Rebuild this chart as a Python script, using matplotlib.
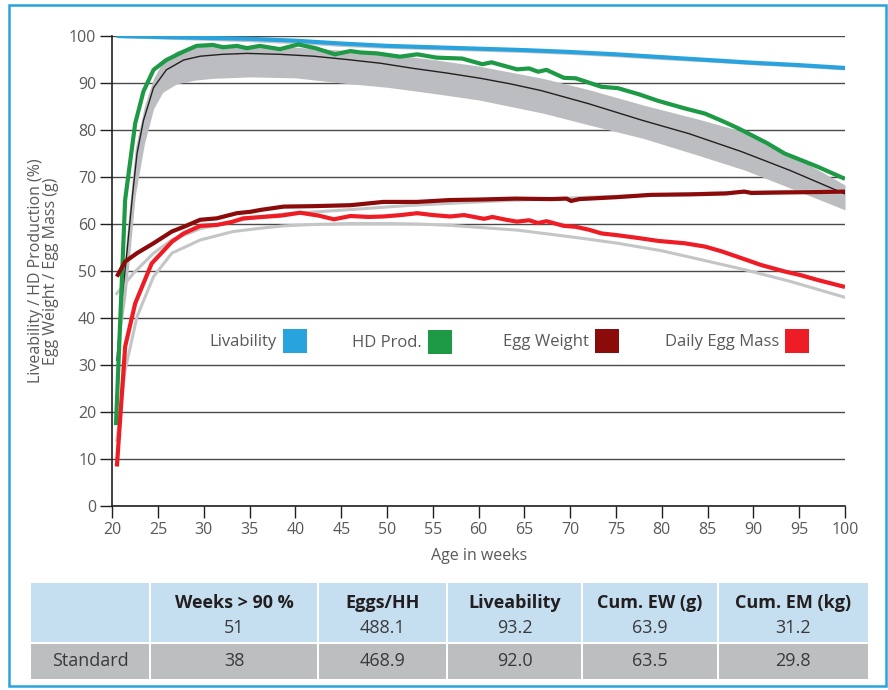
import matplotlib
matplotlib.use("Agg")
import matplotlib.pyplot as plt
from matplotlib.patches import Rectangle
import numpy as np

# ---------------- data ----------------
liv_weeks = [20.5, 25, 30, 35, 40, 45, 50, 55, 60, 65, 70, 75, 80, 85, 90, 95, 100]
liv_vals = [100, 99.8, 99.6, 99.4, 99.0, 98.4, 97.9, 97.6, 97.3, 97.0, 96.6, 96.1, 95.5, 94.9, 94.3, 93.8, 93.2]
liv_std_vals = [99.9, 99.6, 99.3, 99.0, 98.6, 98.0, 97.6, 97.3, 97.0, 96.7, 96.3, 95.8, 95.2, 94.7, 94.1, 93.6, 93.0]

hd_weeks = [20.4, 21.4, 22.5, 23.4, 24.5, 25.9, 27.8, 29.2, 31, 32.1, 33.6, 34.7, 36.1, 38.3, 40.3,
            42.2, 44.3, 46, 47.1, 48.9, 51.4, 53.3, 55.4, 58.2, 60.4, 61.4, 64.2, 65.5, 66.5, 67.4,
            69.3, 70.6, 73.4, 75.2, 77.5, 79.6, 82.5, 84.7, 86.5, 88.3, 89.8, 91.5, 93.4, 95.2, 97.0, 100]
hd_vals = [17.2, 65.1, 81.4, 88.2, 92.8, 94.9, 96.7, 97.9, 98.1, 97.6, 97.9, 97.4, 97.9, 97.2, 98.2,
           97.4, 96.1, 96.8, 96.5, 96.3, 95.6, 96.1, 95.4, 95.2, 94.0, 94.4, 92.9, 93.1, 92.4, 92.8,
           91.1, 91.0, 89.2, 88.9, 87.6, 86.2, 84.6, 83.5, 82.0, 80.4, 78.9, 77.2, 75.0, 73.6, 72.2, 69.6]

hd_std_weeks = [20.5, 21, 21.6, 22.2, 22.7, 23.4, 24.5, 25.9, 27.8, 29.6, 32, 34.7, 38.3, 42, 45.6,
                49.3, 52.9, 56.6, 60.2, 63.5, 66.8, 72, 77.8, 83, 88.7, 94, 100]
hd_std_vals = [31, 43, 54, 66, 75, 82, 89, 92.8, 94.9, 95.7, 96.1, 96.3, 96.1, 95.7, 95.0,
               94.2, 93.1, 92.1, 91.0, 89.8, 88.4, 85.6, 82.1, 79.2, 75.4, 71.4, 66.4]

band_weeks = [20.5, 21.5, 22.5, 23.5, 24.5, 25.5, 27, 29, 31, 35, 40, 45, 50, 55, 60, 67, 72, 78, 84, 89, 95, 100]
band_upper = [31, 56, 76, 85, 91, 94.5, 96.8, 97.8, 98.2, 98.0, 97.6, 97.0, 96.2, 95.0, 93.6, 91.0,
              88.6, 85.3, 82.3, 79.6, 73.8, 68.3]
band_lower = [31, 45, 66, 77, 84.5, 88, 89.8, 90.6, 91.0, 91.3, 91.1, 90.0, 89.1, 87.8, 86.4, 83.6,
              81.1, 78.2, 74.6, 71.5, 66.9, 63.0]

ew_weeks = [20.5, 21.4, 22.7, 24.5, 26.5, 27.8, 29.6, 31.4, 33.6, 35.1, 36.2, 38.7, 42, 46, 49.6,
            53.3, 56.9, 60, 64, 67.9, 69.6, 70.1, 71, 75, 78.8, 83, 87, 89, 89.8, 93, 97, 100]
ew_vals = [48.8, 52.0, 53.8, 55.9, 58.4, 59.4, 60.9, 61.2, 62.3, 62.6, 63.0, 63.7, 63.8, 64.0, 64.7,
           64.7, 65.1, 65.2, 65.4, 65.3, 65.4, 64.9, 65.3, 65.7, 66.2, 66.3, 66.5, 66.9, 66.6, 66.7, 66.8, 66.9]

ew_std_weeks = [20.5, 22.3, 24.5, 26.5, 29.6, 33, 36, 39, 42.4, 47, 52, 57, 62, 67, 72, 78, 84, 90, 95, 100]
ew_std_vals = [45.2, 49.5, 53.8, 56.6, 59.0, 60.5, 61.5, 62.2, 62.6, 63.2, 63.9, 64.4, 64.9, 65.3,
               65.7, 66.1, 66.5, 66.8, 67.0, 67.2]

em_weeks = [20.5, 21.4, 22.5, 24.3, 26.5, 27.8, 29.6, 31.4, 33, 34.3, 36.4, 38.5, 40.5, 42.5, 44.2,
            46, 48, 49.6, 51.5, 53.3, 55, 56.9, 58.4, 60.6, 61.5, 63, 64.2, 65.5, 66.5, 67.4, 69.3,
            70.6, 72, 73.4, 75.2, 77.5, 79.6, 82.5, 84.7, 86.5, 88.3, 90.8, 93.4, 95.2, 97.0, 100]
em_vals = [8.4, 33.9, 43.1, 51.6, 56.2, 58.0, 59.6, 59.8, 60.4, 61.2, 61.5, 61.8, 62.4, 61.8, 61.0,
           61.7, 61.5, 61.6, 61.9, 62.3, 61.9, 61.6, 61.9, 61.1, 61.5, 60.9, 60.5, 60.8, 60.2, 60.6, 59.6,
           59.4, 58.8, 58.0, 57.6, 57.0, 56.4, 55.9, 55.2, 54.2, 53.0, 51.3, 49.9, 49.1, 48.1, 46.6]

em_std_weeks = [20.5, 21.4, 22.7, 24.5, 26.5, 29.6, 33.2, 36.2, 38.7, 42, 46, 50, 53.3, 57, 60.6,
                64.2, 67.9, 71.5, 75.2, 80, 84.3, 89, 94, 100]
em_std_vals = [14.0, 28.9, 40.3, 48.8, 53.8, 56.6, 58.4, 59.1, 59.6, 59.9, 60.1, 60.1, 60.0, 59.7,
               59.2, 58.7, 57.8, 56.9, 55.9, 54.3, 52.4, 50.3, 47.8, 44.4]

legend_labels = ["Livability", "HD Prod.", "Egg Weight", "Daily Egg Mass"]
x_ticks = list(range(20, 101, 5))
y_ticks = list(range(0, 101, 10))

table_headers = ["", "Weeks > 90 %", "Eggs/HH", "Liveability", "Cum. EW (g)", "Cum. EM (kg)"]
table_row1 = ["", "51", "488.1", "93.2", "63.9", "31.2"]
table_row2 = ["Standard", "38", "468.9", "92.0", "63.5", "29.8"]

# ---------------- style ----------------
C_BLUE = "#29a3dd"
C_GREEN = "#1e9a46"
C_DRED = "#8b0a0a"
C_RED = "#ee1d25"
C_BAND = "#bcbdc0"
C_GLINE = "#c4c5c7"
C_TXT = "#58595b"

FONT = ["Open Sans", "DejaVu Sans"]
plt.rcParams["font.family"] = FONT

W, H = 888, 690
fig = plt.figure(figsize=(W / 100, H / 100), dpi=100)


def fx(px):
    return px / W


def fy(py):
    return 1 - py / H


# blue frame
fig.patches.append(Rectangle((fx(9), fy(686)), fx(886) - fx(9), fy(5) - fy(686),
                             transform=fig.transFigure, fill=False, edgecolor=C_BLUE, linewidth=1.8))

ax = fig.add_axes([fx(112.3), fy(506), fx(845) - fx(112.3), fy(36) - fy(506)])
ax.set_xlim(20, 100)
ax.set_ylim(0, 100)

for s in ["top", "right"]:
    ax.spines[s].set_visible(False)
for s in ["left", "bottom"]:
    ax.spines[s].set_color("#231f20")
    ax.spines[s].set_linewidth(1.2)

ax.set_xticks(x_ticks)
ax.set_yticks(y_ticks)
ax.tick_params(axis="both", direction="out", length=8.5, width=1.0, color="#231f20",
               labelsize=11.5, labelcolor=C_TXT, pad=3)
ax.yaxis.grid(True, color="#4a4a4a", linewidth=1.0)
ax.set_axisbelow(True)

# band
ax.fill_between(band_weeks, band_lower, band_upper, color=C_BAND, linewidth=0, zorder=2)
# standards
ax.plot(liv_weeks, liv_std_vals, color=C_GLINE, lw=2.2, zorder=3, solid_capstyle="butt")
ax.plot(ew_std_weeks, ew_std_vals, color=C_GLINE, lw=2.2, zorder=3)
ax.plot(em_std_weeks, em_std_vals, color=C_GLINE, lw=2.2, zorder=3)
ax.plot(hd_std_weeks, hd_std_vals, color="#231f20", lw=1.0, zorder=4)
# actual
ax.plot(liv_weeks, liv_vals, color=C_BLUE, lw=3.0, zorder=5, solid_capstyle="butt")
ax.plot(hd_weeks, hd_vals, color=C_GREEN, lw=3.0, zorder=5, solid_capstyle="butt")
ax.plot(ew_weeks, ew_vals, color=C_DRED, lw=3.0, zorder=5, solid_capstyle="butt")
ax.plot(em_weeks, em_vals, color=C_RED, lw=3.0, zorder=5, solid_capstyle="butt")

ax.set_xlabel("Age in weeks", fontsize=11.5, color=C_TXT, labelpad=7)
fig.text(fx(36), fy(271), "Liveability / HD Production (%)", rotation=90, ha="center", va="center",
         fontsize=11.5, color=C_TXT)
fig.text(fx(51), fy(271), "Egg Weight / Egg Mass (g)", rotation=90, ha="center", va="center",
         fontsize=11.5, color=C_TXT)

# legend
leg_colors = [C_BLUE, C_GREEN, C_DRED, C_RED]
leg_sq_x = [283, 428, 595, 785]
leg_sq_y = [329, 330, 329, 329]
for lab, col, sx, sy in zip(legend_labels, leg_colors, leg_sq_x, leg_sq_y):
    fig.patches.append(Rectangle((fx(sx), fy(sy + 24)), fx(24), 24 / H, transform=fig.transFigure,
                                 facecolor=col, edgecolor="none"))
    fig.text(fx(sx - 6), fy(sy + 13), lab, ha="right", va="center", fontsize=12, color=C_TXT)

# table
col_edges = [31, 150, 318, 447, 582, 718, 868]
row_top, row_mid, row_bot = 583, 642, 679
for i in range(len(col_edges) - 1):
    x0 = col_edges[i] + (1 if i > 0 else 0)
    x1 = col_edges[i + 1] - (1 if i < len(col_edges) - 2 else 0)
    fig.patches.append(Rectangle((fx(x0), fy(row_mid)), fx(x1 - x0), (row_mid - row_top) / H,
                                 transform=fig.transFigure, facecolor="#c5dff1", edgecolor="none"))
    fig.patches.append(Rectangle((fx(x0), fy(row_bot)), fx(x1 - x0), (row_bot - row_mid - 2) / H,
                                 transform=fig.transFigure, facecolor="#bcbec0", edgecolor="none"))
    cx = fx((col_edges[i] + col_edges[i + 1]) / 2)
    if table_headers[i]:
        fig.text(cx, fy(603), table_headers[i], ha="center", va="center", fontsize=13,
                 fontweight="bold", color="#231f20")
    if table_row1[i]:
        fig.text(cx, fy(628), table_row1[i], ha="center", va="center", fontsize=13, color="#3a3a3c")
    fig.text(cx, fy(661), table_row2[i], ha="center", va="center", fontsize=13, color="#3a3a3c")

fig.savefig("out.png", dpi=100)
